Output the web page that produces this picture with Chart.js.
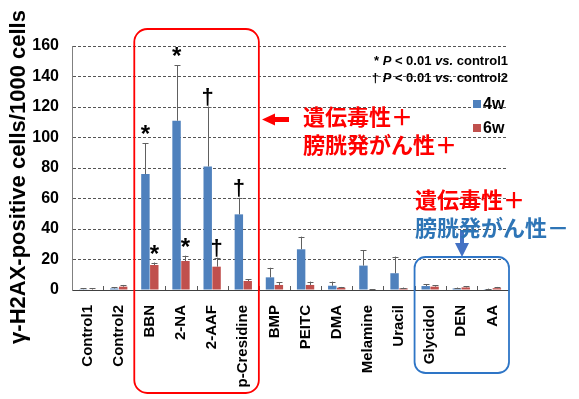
<!DOCTYPE html>
<html><head><meta charset="utf-8">
<script src="https://cdn.jsdelivr.net/npm/chart.js@4.4.0/dist/chart.umd.min.js"></script>
<style>html,body{margin:0;padding:0;background:#fff}#c{display:block}</style>
</head><body>
<div style="width:579px;height:399px"><canvas id="c" width="579" height="399"></canvas></div>
<script>
const categories = ['Control1','Control2','BBN','2-NA','2-AAF','p-Cresidine','BMP','PEITC','DMA','Melamine','Uracil','Glycidol','DEN','AA'];
const seriesLabels = ['4w','6w'];
const values4w = [0.5, 1.0, 76, 111, 81, 49.6, 8.3, 26.7, 2.8, 16, 11, 2.6, 1.0, 0.5];
const err4w    = [0.5, 0.8, 20.2, 36.5, 39.3, 10.9, 6.3, 8.3, 2.7, 10.2, 10.9, 1.1, 0.6, 0.4];
const values6w = [0.3, 2.2, 16.4, 19, 15.3, 5.9, 3.3, 3.3, 1.5, 0.3, 1.1, 2.2, 1.7, 1.2];
const err6w    = [0.8, 1.1, 1.6, 3.5, 5.9, 1.3, 1.7, 2.2, 0.5, 0.3, 0.5, 0.8, 0.6, 0.8];
const sig4w = ['', '', '*', '*', '†', '†', '', '', '', '', '', '', '', ''];
const sig6w = ['', '', '*', '*', '†', '', '', '', '', '', '', '', '', ''];
const yMin = 0, yMax = 160, yStep = 20;
const yTitle = 'γ-H2AX-positive cells/1000 cells';
const noteLines = [['* ', 'P', ' < 0.01 ', 'vs.', ' control1'], ['† ', 'P', ' < 0.01 ', 'vs.', ' control2']];
const groupPosLabel = ['遺伝毒性＋', '膀胱発がん性＋'];
const groupNegLabel = ['遺伝毒性＋', '膀胱発がん性－'];
const posGroup = [2, 5];   // BBN .. p-Cresidine
const negGroup = [11, 13]; // Glycidol .. AA

const colors = ['#4F81BD', '#C0504D'];
const errs = [err4w, err6w];
const sigs = [sig4w, sig6w];
const LATIN = '"Liberation Sans", Arial, sans-serif';
const CJK = '"Noto Sans CJK JP", sans-serif';

function roundRect(ctx, x, y, w, h, r) {
  ctx.beginPath();
  ctx.moveTo(x + r, y);
  ctx.lineTo(x + w - r, y);
  ctx.arcTo(x + w, y, x + w, y + r, r);
  ctx.lineTo(x + w, y + h - r);
  ctx.arcTo(x + w, y + h, x + w - r, y + h, r);
  ctx.lineTo(x + r, y + h);
  ctx.arcTo(x, y + h, x, y + h - r, r);
  ctx.lineTo(x, y + r);
  ctx.arcTo(x, y, x + r, y, r);
  ctx.closePath();
}

const overlay = {
  id: 'overlay',
  afterDatasetsDraw(chart) {
    const ctx = chart.ctx;
    const ys = chart.scales.y, xs = chart.scales.x;
    const area = chart.chartArea;
    // inward category ticks
    ctx.save();
    ctx.strokeStyle = '#595959'; ctx.lineWidth = 1;
    const step = (xs.right - xs.left) / categories.length;
    for (let i = 1; i < categories.length; i++) {
      const x = Math.round(xs.left + i * step) + 0.5;
      ctx.beginPath(); ctx.moveTo(x, area.bottom); ctx.lineTo(x, area.bottom - 4); ctx.stroke();
    }
    // error bars + markers
    chart.data.datasets.forEach((ds, di) => {
      const meta = chart.getDatasetMeta(di);
      meta.data.forEach((bar, i) => {
        const v = ds.data[i], e = errs[di][i];
        const yTop = ys.getPixelForValue(v + e);
        const yV = ys.getPixelForValue(v);
        const x = Math.round(bar.x) + 0.5;
        ctx.strokeStyle = '#606060'; ctx.lineWidth = 1;
        ctx.beginPath();
        ctx.moveTo(x, yV); ctx.lineTo(x, yTop);
        ctx.moveTo(x - 3, Math.round(yTop) + 0.5); ctx.lineTo(x + 3, Math.round(yTop) + 0.5);
        ctx.stroke();
        const s = sigs[di][i];
        if (s) {
          ctx.fillStyle = '#000';
          ctx.textAlign = 'center';
          ctx.textBaseline = 'alphabetic';
          if (s === '*') { ctx.font = 'bold 24px ' + LATIN; ctx.fillText(s, bar.x, yTop - 1); }
          else { ctx.font = 'bold 22px ' + LATIN; ctx.fillText(s, bar.x, yTop - 3); }
        }
      });
    });
    ctx.restore();
  },
  afterDraw(chart) {
    const ctx = chart.ctx;
    const xs = chart.scales.x;
    const area = chart.chartArea;
    const step = (xs.right - xs.left) / categories.length;
    ctx.save();
    // y title
    ctx.save();
    ctx.translate(19, 177);
    ctx.rotate(-Math.PI / 2);
    ctx.font = 'bold 22px ' + LATIN;
    ctx.fillStyle = '#000';
    ctx.textAlign = 'center'; ctx.textBaseline = 'middle';
    ctx.fillText(yTitle, 0, 0);
    ctx.restore();
    // notes (right aligned)
    ctx.fillStyle = '#000';
    ctx.textBaseline = 'middle';
    noteLines.forEach((parts, li) => {
      const y = 61 + li * 17;
      const fonts = parts.map((p, k) => (k === 1 || k === 3 ? 'italic bold 13px ' : 'bold 13px ') + LATIN);
      let w = 0;
      parts.forEach((p, k) => { ctx.font = fonts[k]; w += ctx.measureText(p).width; });
      let x = area.right - w;
      ctx.textAlign = 'left';
      parts.forEach((p, k) => { ctx.font = fonts[k]; ctx.fillText(p, x, y); x += ctx.measureText(p).width; });
    });
    // legend
    chart.data.datasets.forEach((ds, di) => {
      const y = 104 + di * 24;
      ctx.fillStyle = ds.backgroundColor;
      ctx.fillRect(473, y - 4, 8, 8);
      ctx.fillStyle = '#000';
      ctx.font = 'bold 16px ' + LATIN;
      ctx.textAlign = 'left'; ctx.textBaseline = 'middle';
      ctx.fillText(ds.label, 483, y + 1);
    });
    // red group box
    const rx0 = xs.left + posGroup[0] * step, rx1 = xs.left + (posGroup[1] + 1) * step;
    ctx.strokeStyle = '#FF0000'; ctx.lineWidth = 1.8;
    roundRect(ctx, rx0, 29, rx1 - rx0, 364, 13); ctx.stroke();
    // red arrow
    ctx.fillStyle = '#FF0000';
    ctx.beginPath();
    ctx.moveTo(262, 119.5); ctx.lineTo(275, 113.5); ctx.lineTo(275, 117); ctx.lineTo(289, 117);
    ctx.lineTo(289, 122); ctx.lineTo(275, 122); ctx.lineTo(275, 125.5); ctx.closePath(); ctx.fill();
    // red labels
    ctx.font = 'bold 22px ' + CJK;
    ctx.textAlign = 'left'; ctx.textBaseline = 'middle';
    ctx.fillStyle = '#FF0000';
    ctx.fillText(groupPosLabel[0], 303, 117);
    ctx.fillText(groupPosLabel[1], 303, 145);
    // blue group box
    const bx0 = xs.left + negGroup[0] * step, bx1 = xs.left + (negGroup[1] + 1) * step;
    ctx.strokeStyle = '#2E75C6'; ctx.lineWidth = 1.8;
    roundRect(ctx, bx0, 257, bx1 - bx0 + 1, 116, 11); ctx.stroke();
    // blue arrow
    ctx.fillStyle = '#4472C4';
    ctx.beginPath();
    ctx.moveTo(460, 230); ctx.lineTo(464, 230); ctx.lineTo(464, 243); ctx.lineTo(469, 243);
    ctx.lineTo(462, 257); ctx.lineTo(455, 243); ctx.lineTo(460, 243); ctx.closePath(); ctx.fill();
    // blue region labels
    ctx.fillStyle = '#FF0000';
    ctx.fillText(groupNegLabel[0], 415, 200);
    ctx.fillStyle = '#2E75B6';
    ctx.fillText(groupNegLabel[1], 415, 228);
    ctx.restore();
  }
};

new Chart(document.getElementById('c'), {
  type: 'bar',
  data: {
    labels: categories,
    datasets: [
      { label: seriesLabels[0], data: values4w, backgroundColor: colors[0], barPercentage: 0.95, categoryPercentage: 0.57 },
      { label: seriesLabels[1], data: values6w, backgroundColor: colors[1], barPercentage: 0.95, categoryPercentage: 0.57 }
    ]
  },
  options: {
    responsive: false,
    animation: false,
    layout: { padding: { left: 0, right: 71, top: 46, bottom: 0 } },
    plugins: { legend: { display: false }, tooltip: { enabled: false } },
    scales: {
      x: {
        grid: { display: false },
        border: { display: true, color: '#404040', width: 1 },
        ticks: { color: '#000', font: { family: LATIN, size: 15, weight: 'bold' }, maxRotation: 90, minRotation: 90, padding: 7, autoSkip: false },
        afterFit(s) { s.height = 109; }
      },
      y: {
        min: yMin, max: yMax,
        grid: { drawTicks: false, color: (c) => c.tick && c.tick.value === 0 ? 'rgba(0,0,0,0)' : '#555555', lineWidth: 1 },
        border: { display: true, color: '#808080', width: 1, dash: [3, 2] },
        ticks: { stepSize: yStep, color: '#000', font: { family: LATIN, size: 16, weight: 'bold' }, padding: 13 },
        afterFit(s) { s.width = 72; }
      }
    }
  },
  plugins: [overlay]
});
</script>
</body></html>
